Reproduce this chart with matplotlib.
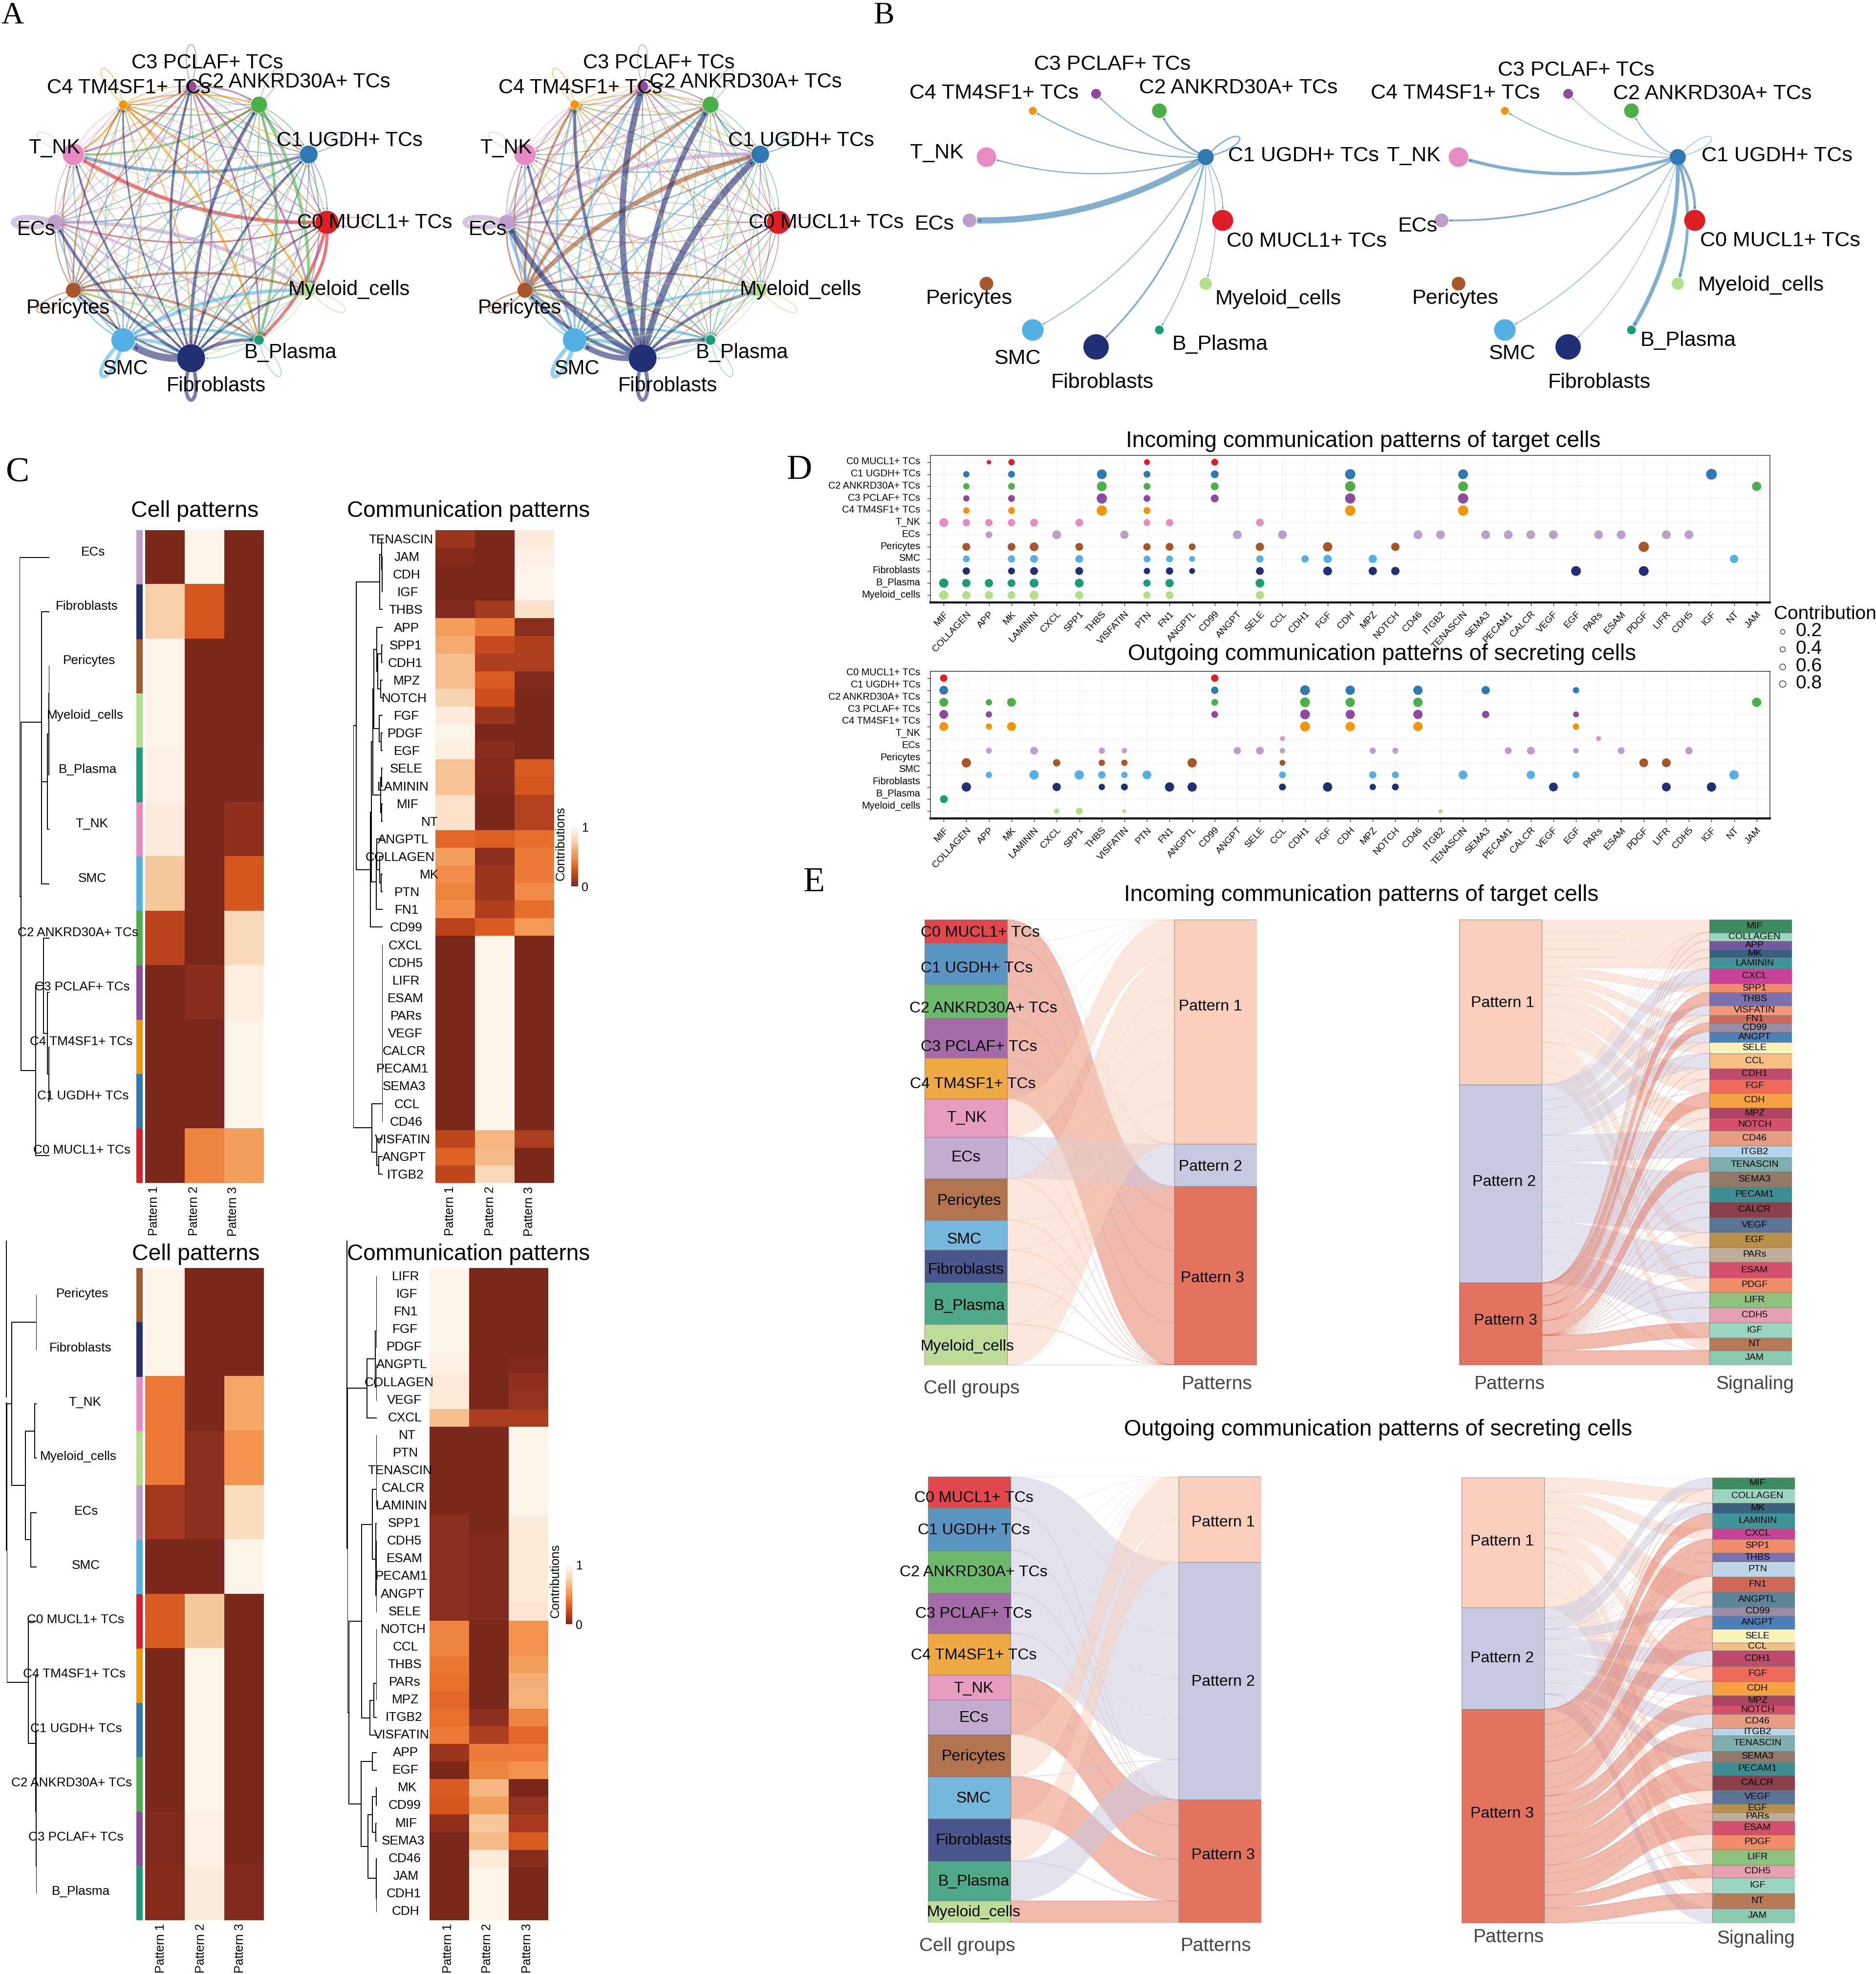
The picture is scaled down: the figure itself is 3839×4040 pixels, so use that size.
import numpy as np
import matplotlib
matplotlib.use("Agg")
import matplotlib.pyplot as plt
from matplotlib.path import Path
from matplotlib.patches import PathPatch, Polygon
from matplotlib.cm import ScalarMappable
from matplotlib.colors import Normalize, LinearSegmentedColormap
from matplotlib.transforms import ScaledTranslation

plt.rcParams['font.family'] = ['Liberation Sans', 'DejaVu Sans']

W_PX, H_PX = 3839, 4040

# ---- cell groups
cells = ['C0 MUCL1+ TCs', 'C1 UGDH+ TCs', 'C2 ANKRD30A+ TCs', 'C3 PCLAF+ TCs', 'C4 TM4SF1+ TCs',
         'T_NK', 'ECs', 'Pericytes', 'SMC', 'Fibroblasts', 'B_Plasma', 'Myeloid_cells']
node_colors = ['#DC1F26', '#2F78B2', '#4DAF4A', '#8E4A9D', '#F29403', '#E78AC3',
               '#BC9DCC', '#A65628', '#54B0E4', '#222F75', '#1B9E77', '#B2DF8A']
strata_colors = ['#E0484D', '#5A94C0', '#6DB96D', '#A36BA8', '#EFA945', '#E89BC1',
                 '#C3ABD0', '#B17350', '#76B7DE', '#4A578C', '#4FAA8A', '#BEDD9B']
node_angles = [0, 30, 60, 90, 120, 150, 180, 210, 240, 270, 300, 330]
node_sizes = [43, 33, 30, 20, 16, 40, 28, 28, 44, 52, 18, 25]

# ---- panel A, weights, source in rows
net_a1 = [
    [.4, .6, .4, .4, .4, 3.5, 1.2, .4, .4, .8, 3, 3],
    [.6, .6, .7, .7, .7, 3, 1, .4, .6, 1.3, .6, .8],
    [.4, .7, .5, .7, .9, 2, .8, .5, .6, .8, 2.5, 3],
    [.4, .6, 1.5, .6, .6, 2, .9, .4, .7, 1.3, 1.8, 1.8],
    [.4, .7, 1.5, .6, .6, 1.8, .8, .4, .6, .9, 2.2, 2],
    [.3, .4, .4, .4, .4, .3, .5, .3, .4, .4, .3, .4],
    [.6, .7, .7, .7, .7, .9, 5, .8, 1.2, 1.8, 2.2, 3.5],
    [.3, .6, 1.3, .8, 1.3, 1, .8, .8, 1.8, 1.3, 2.2, 2.2],
    [.4, 1, .8, 1.2, .7, .8, 1.3, 1.3, 3.5, 3, 2.8, 3.2],
    [1.2, 2.2, 3.2, 2.2, 1.3, 1.8, 2.8, 1.8, 7, 3.5, 3.2, 2.2],
    [.2, .3, .3, .3, .3, .3, .3, .3, .3, .3, .3, .3],
    [.4, .5, .5, .4, .5, .5, .5, 1.8, .7, .7, .5, .7],
]
net_a2 = [
    [.3, .3, .4, .3, .3, .4, .4, .3, .3, .4, .5, .4],
    [.4, .7, 1.2, .6, .6, .7, 1, .3, .5, .5, .4, .5],
    [.3, .5, .5, .6, .7, .7, .7, .3, .4, .4, .5, .6],
    [.3, .4, .8, .4, .5, .6, .7, .3, .4, .5, .4, .5],
    [.3, .5, .9, .4, .5, .6, .6, .3, .4, .5, .4, .5],
    [.2, .3, .3, .3, .3, .3, .4, .3, .3, .3, .2, .3],
    [.7, 4, 1.2, 2.5, 1.8, 1.2, 5, 1, 2, 2.5, 1.5, 2],
    [.4, 4.5, 3, 1.8, 2.2, 1, 1.3, 1, 1.5, 2.2, 1.5, 1.8],
    [.5, 1.8, 1.6, 1.8, 1.6, 1, 2.8, 1, 4, 3.2, 2.2, 2.6],
    [1, 6.5, 5, 6, 3, 2.2, 5.5, 3.2, 5.5, 3.5, 3.2, 2.8],
    [.2, .3, .3, .3, .3, .3, .3, .3, .3, .3, .3, .3],
    [.3, .6, .6, .5, .6, .6, .6, 1.4, .7, .8, .5, .7],
]
# ---- panel B, edges out of C1 UGDH+ TCs
net_b1 = [.7, 1.5, 2, 1, 1.2, 1.2, 8, 0, .7, 2, .6, .5]
net_b2 = [3, .4, .8, .4, .7, 4, 2, 0, .6, .3, 5, 3.5]

# ---- panel C heatmaps
hm1_rows = ['ECs', 'Fibroblasts', 'Pericytes', 'Myeloid_cells', 'B_Plasma', 'T_NK', 'SMC',
            'C2 ANKRD30A+ TCs', 'C3 PCLAF+ TCs', 'C4 TM4SF1+ TCs', 'C1 UGDH+ TCs', 'C0 MUCL1+ TCs']
hm1_vals = [[0, 1, 0], [.75, .28, 0], [1, 0, 0], [1, 0, 0], [.98, .01, .01], [.92, 0, .06],
            [.72, 0, .28], [.18, 0, .8], [0, .04, .95], [0, 0, 1], [0, 0, 1], [0, .45, .55]]
hm1_x = [230, 215, 220, 210, 217, 227, 228, 192, 203, 200, 205, 202]

hm2_rows = ['TENASCIN', 'JAM', 'CDH', 'IGF', 'THBS', 'APP', 'SPP1', 'CDH1', 'MPZ', 'NOTCH', 'FGF', 'PDGF', 'EGF',
            'SELE', 'LAMININ', 'MIF', 'NT', 'ANGPTL', 'COLLAGEN', 'MK', 'PTN', 'FN1', 'CD99', 'CXCL', 'CDH5', 'LIFR',
            'ESAM', 'PARs', 'VEGF', 'CALCR', 'PECAM1', 'SEMA3', 'CCL', 'CD46', 'VISFATIN', 'ANGPT', 'ITGB2']
hm2_vals = [[.1, 0, .92], [.03, 0, .97], [0, 0, 1], [0, 0, 1], [.02, .12, .85], [.55, .42, .05], [.6, .22, .16],
            [.68, .15, .15], [.68, .3, .02], [.78, .25, 0], [.92, .1, .01], [.99, .01, 0], [.95, .04, 0],
            [.7, .03, .3], [.7, .02, .28], [.85, 0, .17], [.85, 0, .17], [.35, .32, .37], [.55, .05, .42],
            [.48, .1, .42], [.45, .1, .47], [.48, .16, .37], [.18, .3, .52], [0, 1, 0], [0, 1, 0], [0, 1, 0],
            [0, 1, 0], [0, 1, 0], [0, 1, 0], [0, 1, 0], [0, 1, 0], [0, 1, 0], [0, 1, 0], [0, 1, 0],
            [.2, .65, .15], [.33, .67, 0], [.2, .8, 0]]
hm2_x = [990, 1005, 1004, 1006, 1001, 1004, 1001, 1000, 1004, 998, 1004, 1000, 1004, 1002, 995, 1006, 1061, 995,
         988, 1060, 1005, 1004, 1002, 1001, 1001, 1003, 1001, 1003, 1001, 998, 993, 998, 1004, 1002, 994, 997, 1001]

hm3_rows = ['Pericytes', 'Fibroblasts', 'T_NK', 'Myeloid_cells', 'ECs', 'SMC', 'C0 MUCL1+ TCs', 'C4 TM4SF1+ TCs',
            'C1 UGDH+ TCs', 'C2 ANKRD30A+ TCs', 'C3 PCLAF+ TCs', 'B_Plasma']
hm3_vals = [[1, 0, 0], [1, 0, 0], [.42, 0, .58], [.42, .05, .5], [.12, .05, .82], [0, 0, 1], [.3, .72, 0], [0, 1, 0],
            [0, 1, 0], [0, 1, 0], [.02, .97, 0], [.03, .93, .02]]
hm3_x = [203, 199, 210, 193, 213, 212, 186, 184, 188, 177, 187, 200]

hm4_rows = ['LIFR', 'IGF', 'FN1', 'FGF', 'PDGF', 'ANGPTL', 'COLLAGEN', 'VEGF', 'CXCL', 'NT', 'PTN', 'TENASCIN', 'CALCR',
            'LAMININ', 'SPP1', 'CDH5', 'ESAM', 'PECAM1', 'ANGPT', 'SELE', 'NOTCH', 'CCL', 'THBS', 'PARs', 'MPZ', 'ITGB2',
            'VISFATIN', 'APP', 'EGF', 'MK', 'CD99', 'MIF', 'SEMA3', 'CD46', 'JAM', 'CDH1', 'CDH']
hm4_vals = [[1, 0, 0], [1, 0, 0], [1, 0, 0], [1, 0, 0], [1, 0, 0], [.97, 0, .02], [.92, 0, .06], [.9, 0, .08],
            [.68, .14, .14], [0, 0, 1], [0, 0, 1], [0, 0, 1], [0, 0, 1], [0, 0, 1], [.05, 0, .93], [.05, .02, .9],
            [.05, .02, .9], [.05, .02, .9], [.05, .02, .9], [.05, .02, .88], [.45, 0, .5], [.45, 0, .5], [.4, 0, .55],
            [.38, 0, .62], [.35, 0, .63], [.38, .05, .45], [.42, .15, .35], [.09, .42, .42], [0, .45, .5], [.3, .65, 0],
            [.28, .55, .08], [.06, .72, .13], [0, .67, .3], [0, .9, .04], [0, 1, 0], [0, 1, 0], [0, 1, 0]]
hm4_x = [1001, 1004, 1002, 1000, 998, 992, 985, 998, 999, 1005, 1001, 987, 995, 991, 998, 998, 998, 991, 994, 999, 995,
         1001, 999, 999, 1001, 997, 991, 1001, 1001, 1005, 999, 1003, 995, 999, 1002, 997, 1001]
pattern_names = ['Pattern 1', 'Pattern 2', 'Pattern 3']
heat_cmap = LinearSegmentedColormap.from_list('heat', ['#7B271C', '#A63A20', '#CF4F1B', '#E96F2B', '#F4934F',
                                                       '#F6B077', '#F8D0A8', '#FCE6D2', '#FEF4E9'])


def ladder(rows):
    node = rows[0]
    for r in rows[1:]:
        node = (.004, node, r)
    return node


# dendrograms, (height, upper, lower) with row numbers as leaves
tree1 = (1.0, 0, (.95, (.27, 1, (.26, (.07, (.01, (.005, 2, 3), 4), 5), 6)),
                  (.46, (.19, 7, (.06, 8, (.02, 9, 10))), 11)))
tree2_top = (.1, (.04, 0, (.02, 1, (.01, 2, 3))), 4)
tree2_a = (.2, 5, (.17, (.03, 6, 7), (.06, 8, 9)))
tree2_b = (.12, 10, (.05, 11, 12))
tree2_c = (.06, (.04, 13, 14), (.04, 15, 16))
tree2_d = (.22, (.2, 17, (.1, 18, (.05, 19, 20))), 21)
tree2_mid = (.42, (.38, (.33, (.3, tree2_a, tree2_b), tree2_c), tree2_d), 22)
tree2 = (1.0, (.9, tree2_top, tree2_mid),
         (.37, ladder(list(range(23, 34))), (.2, 34, (.14, 35, 36))))
tree3 = (1.0, (.84, (.004, 0, 1), (.38, (.07, 2, 3), (.2, 4, 5))),
         (.28, 6, (.03, 7, (.02, (.01, 8, 9), (.005, 10, 11)))))
tree4_top = (.33, (.05, ladder([0, 1, 2, 3, 4]), ladder([5, 6, 7])), 8)
tree4_mid = (.52, (.15, ladder([9, 10, 11, 12, 13]), (.03, 14, ladder([15, 16, 17, 18, 19]))),
             (.24, (.1, ladder([20, 21, 22, 23, 24]), 25), 26))
tree4_low = (.53, (.15, 27, 28), (.3, (.15, (.02, 29, 30), (.03, 31, 32)), (.02, 33, ladder([34, 35, 36]))))
tree4 = (1.0, tree4_top, (.95, tree4_mid, tree4_low))

# ---- panel D dot plots
dot_signals = ['MIF', 'COLLAGEN', 'APP', 'MK', 'LAMININ', 'CXCL', 'SPP1', 'THBS', 'VISFATIN', 'PTN', 'FN1', 'ANGPTL',
               'CD99', 'ANGPT', 'SELE', 'CCL', 'CDH1', 'FGF', 'CDH', 'MPZ', 'NOTCH', 'CD46', 'ITGB2', 'TENASCIN',
               'SEMA3', 'PECAM1', 'CALCR', 'VEGF', 'EGF', 'PARs', 'ESAM', 'PDGF', 'LIFR', 'CDH5', 'IGF', 'NT', 'JAM']
in_idx = [[2, 3, 9, 12],
          [1, 3, 7, 9, 12, 18, 23, 34],
          [1, 3, 7, 9, 12, 18, 23, 36],
          [1, 3, 7, 9, 12, 18, 23],
          [1, 3, 7, 9, 18, 23],
          [0, 1, 2, 3, 4, 6, 9, 10, 14],
          [2, 5, 8, 13, 15, 21, 22, 24, 25, 26, 27, 29, 30, 32, 33],
          [1, 3, 4, 6, 9, 10, 11, 14, 17, 20, 31],
          [1, 3, 4, 6, 9, 10, 11, 14, 16, 17, 19, 35],
          [1, 3, 4, 6, 9, 10, 11, 14, 17, 19, 20, 28, 31],
          [0, 1, 2, 3, 4, 6, 9, 10, 14],
          [0, 1, 2, 3, 4, 6, 9, 10, 14]]
in_val = [[.1, .3, .25, .35],
          [.3, .35, .65, .35, .45, .7, .65, .75],
          [.3, .35, .65, .35, .45, .7, .65, .6],
          [.3, .35, .7, .35, .45, .7, .7],
          [.3, .35, .7, .35, .7, .7],
          [.55, .4, .4, .4, .45, .45, .35, .4, .45],
          [.35, .55, .5, .55, .55, .55, .55, .55, .55, .55, .55, .55, .55, .55, .55],
          [.45, .45, .55, .45, .4, .45, .35, .5, .6, .5, .7],
          [.35, .4, .45, .45, .35, .35, .25, .4, .4, .5, .5, .5],
          [.4, .35, .45, .45, .3, .4, .25, .45, .55, .5, .5, .65, .65],
          [.6, .5, .5, .45, .55, .55, .4, .5, .55],
          [.6, .5, .5, .45, .55, .5, .4, .45, .5]]
out_idx = [[0, 12],
           [0, 12, 16, 18, 21, 24, 28],
           [0, 2, 3, 12, 16, 18, 21, 36],
           [0, 2, 12, 16, 18, 21, 24, 28],
           [0, 2, 3, 16, 18, 21, 28],
           [15, 29],
           [2, 4, 7, 8, 13, 14, 15, 19, 20, 25, 26, 28, 30, 33],
           [1, 5, 7, 8, 11, 15, 31, 32],
           [2, 4, 6, 7, 8, 9, 15, 19, 20, 23, 26, 28, 35],
           [1, 5, 7, 8, 10, 11, 15, 17, 19, 20, 27, 32, 34],
           [0],
           [5, 6, 8, 22]]
out_val = [[.4, .4],
           [.55, .4, .65, .6, .6, .5, .3],
           [.55, .3, .55, .35, .65, .6, .6, .6],
           [.55, .3, .35, .65, .6, .6, .4, .25],
           [.55, .3, .55, .65, .6, .6, .3],
           [.15, .15],
           [.25, .45, .3, .2, .4, .45, .2, .3, .25, .35, .45, .2, .35, .4],
           [.6, .4, .3, .3, .6, .25, .55, .55],
           [.3, .6, .6, .4, .3, .55, .35, .4, .35, .55, .5, .35, .6],
           [.6, .5, .3, .35, .6, .6, .35, .6, .3, .35, .55, .55, .6],
           [.45],
           [.2, .35, .05, .1]]
legend_vals = [.2, .4, .6, .8]

# ---- panel E alluvials
pattern_colors = ['#F9CFBB', '#C8C9E0', '#E2745F']
in_cell_sizes = [68, 120, 100, 115, 120, 111, 121, 122, 86, 96, 121, 120]
in_cell_pattern = [2, 2, 2, 2, 2, 0, 1, 0, 0, 0, 0, 0]
out_cell_sizes = [87, 117, 118, 112, 115, 69, 95, 117, 116, 118, 110, 60]
out_cell_pattern = [1, 1, 1, 1, 1, 2, 2, 0, 2, 0, 1, 2]

sig_colors = {'MIF': '#3C8A60', 'COLLAGEN': '#9CD4C0', 'APP': '#7658A0', 'MK': '#35607E', 'LAMININ': '#41949A',
              'CXCL': '#C84398', 'SPP1': '#F08C69', 'THBS': '#7A70AF', 'VISFATIN': '#F3977D', 'PTN': '#BDD7E7',
              'FN1': '#CF6A5A', 'ANGPTL': '#5F8499', 'CD99': '#9B8CA5', 'ANGPT': '#4D80B6', 'SELE': '#FAF3BA',
              'CCL': '#F6BE82', 'CDH1': '#BF4A6D', 'FGF': '#EE6B5C', 'CDH': '#F4A244', 'MPZ': '#AE4263',
              'NOTCH': '#D5506B', 'CD46': '#E69D84', 'ITGB2': '#B7D5E8', 'TENASCIN': '#7EAFAE', 'SEMA3': '#937A68',
              'PECAM1': '#3F8F92', 'CALCR': '#8B3F4A', 'VEGF': '#5B7396', 'EGF': '#B9924A', 'PARs': '#BEAC98',
              'ESAM': '#D2506A', 'PDGF': '#F08D69', 'LIFR': '#8EC07E', 'CDH5': '#E5A0B1', 'IGF': '#9DD5C4',
              'NT': '#B77A59', 'JAM': '#8ACAB0'}
in_sigs = ['MIF', 'COLLAGEN', 'APP', 'MK', 'LAMININ', 'CXCL', 'SPP1', 'THBS', 'VISFATIN', 'FN1', 'CD99', 'ANGPT', 'SELE',
           'CCL', 'CDH1', 'FGF', 'CDH', 'MPZ', 'NOTCH', 'CD46', 'ITGB2', 'TENASCIN', 'SEMA3', 'PECAM1', 'CALCR', 'VEGF',
           'EGF', 'PARs', 'ESAM', 'PDGF', 'LIFR', 'CDH5', 'IGF', 'NT', 'JAM']
in_sig_sizes = [38, 24, 25, 24, 31, 44, 26, 38, 28, 23, 26, 30, 32, 44, 31, 40, 44, 31, 35, 45, 34, 41, 44, 45, 45, 44,
                43, 44, 45, 43, 45, 44, 44, 37, 43]
in_sig_pattern = [0, 0, 0, 0, 0, 1, 0, 2, 1, 0, 2, 1, 0, 1, 0, 0, 2, 0, 0, 1, 1, 2, 1, 1, 1, 1, 0, 1, 1, 0, 1, 1, 2, 0, 2]
out_sigs = ['MIF', 'COLLAGEN', 'MK', 'LAMININ', 'CXCL', 'SPP1', 'THBS', 'PTN', 'FN1', 'ANGPTL', 'CD99', 'ANGPT', 'SELE',
            'CCL', 'CDH1', 'FGF', 'CDH', 'MPZ', 'NOTCH', 'CD46', 'ITGB2', 'TENASCIN', 'SEMA3', 'PECAM1', 'CALCR', 'VEGF',
            'EGF', 'PARs', 'ESAM', 'PDGF', 'LIFR', 'CDH5', 'IGF', 'NT', 'JAM']
out_sig_sizes = [31, 39, 29, 42, 29, 38, 25, 41, 43, 41, 25, 37, 37, 22, 43, 42, 40, 28, 23, 39, 20, 43, 30, 36, 43, 37,
                 23, 25, 37, 41, 43, 36, 43, 42, 41]
out_sig_pattern = [1, 0, 1, 2, 0, 2, 2, 2, 0, 0, 1, 2, 2, 2, 1, 0, 1, 2, 2, 1, 2, 2, 1, 2, 2, 0, 2, 2, 2, 0, 0, 2, 0, 2, 1]

fig = plt.figure(figsize=(W_PX / 100, H_PX / 100), dpi=100, facecolor='white')


def ax_px(x0, y0, x1, y1, z=1):
    return fig.add_axes([x0 / W_PX, 1 - y1 / H_PX, (x1 - x0) / W_PX, (y1 - y0) / H_PX], zorder=z)


# overlay in reference pixels, for every free text
ov = ax_px(0, 0, W_PX, H_PX, z=50)
ov.set_xlim(0, W_PX)
ov.set_ylim(H_PX, 0)
ov.axis('off')
ov.patch.set_alpha(0)


def lab(x, y, s, size, color='black', rot=0, ha='center', va='center', family=None):
    if rot == 0:
        y = y + 3
    ov.text(x, y, s, fontsize=size, color=color, rotation=rot, ha=ha, va=va,
            family=family if family else plt.rcParams['font.family'])


def network(cx, cy, radius, weights, scale, k, base):
    ax = ax_px(cx - radius, cy - radius, cx + radius, cy + radius)
    ax.set_xlim(-1, 1)
    ax.set_ylim(-1, 1)
    ax.axis('off')
    th = np.radians(node_angles)
    pos = np.column_stack([np.cos(th), np.sin(th)])
    rad = np.array(node_sizes) * scale / 2 / radius
    n = len(cells)
    for i in range(n):
        for j in range(n):
            w = weights[i][j]
            if w <= 0:
                continue
            lw = (base + w * k) * 0.72
            if i == j:
                L = 0.43
                p = pos[i]
                a1 = th[i] - .3
                a2 = th[i] + .3
                verts = [p, p + L * np.array([np.cos(a1), np.sin(a1)]), p + L * np.array([np.cos(a2), np.sin(a2)]), p]
                ax.add_patch(PathPatch(Path(verts, [Path.MOVETO, Path.CURVE4, Path.CURVE4, Path.CURVE4]), fc='none',
                                       ec=node_colors[i], lw=lw, alpha=.6, clip_on=False))
                continue
            a, b = pos[i], pos[j]
            d = b - a
            c = (a + b) / 2 + .14 * np.array([-d[1], d[0]])
            u0 = (c - a) / np.linalg.norm(c - a)
            u1 = (c - b) / np.linalg.norm(c - b)
            p0 = a + u0 * rad[i]
            p2 = b + u1 * (rad[j] + .005)
            ax.add_patch(PathPatch(Path([p0, c, p2], [Path.MOVETO, Path.CURVE3, Path.CURVE3]), fc='none',
                                   ec=node_colors[i], lw=lw, alpha=.6, clip_on=False, capstyle='butt'))
            perp = np.array([-u1[1], u1[0]])
            s = .012 + .0015 * w
            ax.add_patch(Polygon([p2, p2 + u1 * s * 1.4 + perp * s * .6, p2 + u1 * s * 1.4 - perp * s * .6],
                                 fc=node_colors[i], ec='none', alpha=.7, clip_on=False))
    ax.scatter(pos[:, 0], pos[:, 1], s=(np.array(node_sizes) * scale * .72) ** 2, c=node_colors, zorder=5,
               clip_on=False, linewidths=0)


# ---- A
a_labels = [(767, 453), (715, 285), (602, 165), (424, 126), (264, 177), (111, 300),
            (74, 467), (139, 628), (256, 752), (442, 787), (594, 719), (714, 590)]
for off, wts in zip([0, 924], [net_a1, net_a2]):
    network(391 + off, 455, 278, wts, 1.1, 2.0, .5)
    for nm, (x, y) in zip(cells, a_labels):
        lab(x + off, y, nm, 30)

# ---- B
network(2243, 451, 259, [[net_b1[j] if i == 1 else 0 for j in range(12)] for i in range(12)], 1.0, 1.5, .6)
network(3209, 451, 259, [[net_b2[j] if i == 1 else 0 for j in range(12)] for i in range(12)], 1.0, 1.5, .6)
b1_labels = [(2674, 491), (2667, 316), (2534, 177), (2276, 129), (2034, 188), (1917, 310),
             (1912, 456), (1983, 608), (2082, 731), (2256, 780), (2497, 702), (2616, 609)]
b2_labels = [(3643, 490), (3636, 316), (3504, 189), (3225, 141), (2978, 188), (2893, 316),
             (2901, 460), (2978, 608), (3094, 721), (3273, 780), (3455, 694), (3603, 581)]
for labs in (b1_labels, b2_labels):
    for nm, (x, y) in zip(cells, labs):
        lab(x, y, nm, 31)

serif = ['Liberation Serif', 'DejaVu Serif']
lab(25, 30, 'A', 46, family=serif)
lab(1808, 30, 'B', 46, family=serif)
lab(36, 965, 'C', 52, family=serif)
lab(1636, 960, 'D', 52, family=serif)
lab(1666, 1804, 'E', 52, family=serif)


# ---- C
def draw_tree(ax, node):
    if not isinstance(node, tuple):
        return 0.0, node + .5
    h, a, b = node
    ha, ya = draw_tree(ax, a)
    hb, yb = draw_tree(ax, b)
    ax.plot([ha, h, h, hb], [ya, ya, yb, yb], color='black', lw=1.4, solid_joinstyle='miter')
    return h, (ya + yb) / 2


def heatmap(box, rows, vals, xs, tree, tree_x, tick_shift, label_shift, strip=None):
    x0, y0, x1, y1 = box
    ax = ax_px(x0, y0, x1, y1)
    ax.imshow(np.array(vals), cmap=heat_cmap, vmin=0, vmax=1, aspect='auto', interpolation='nearest')
    ax.axis('off')
    rowh = (y1 - y0) / len(rows)
    for i, nm in enumerate(rows):
        lab(xs[i] * .829, y0 + (i + .5) * rowh + label_shift, nm, 18.8)
    cw = (x1 - x0) / 3
    for k, p in enumerate(pattern_names):
        lab(x0 + (k + .5) * cw + tick_shift, y1 + 7, p, 18, rot=90, va='top')
    tr = ax_px(tree_x[0], y0, tree_x[1], y1)
    tr.set_xlim(1, 0)
    tr.set_ylim(len(rows), 0)
    tr.axis('off')
    draw_tree(tr, tree)
    if strip:
        st = ax_px(279, y0, 292, y1)
        st.barh(np.arange(len(rows)) + .5, 1, height=1, color=[node_colors[cells.index(r)] for r in rows])
        st.set_xlim(0, 1)
        st.set_ylim(len(rows), 0)
        st.axis('off')


heatmap((297, 1085, 540, 2421), hm1_rows, hm1_vals, hm1_x, tree1, (40, 101), -22, -14, strip=True)
heatmap((891, 1085, 1134, 2421), hm2_rows, hm2_vals, hm2_x, tree2, (723, 783), -10, -1)
heatmap((297, 2595, 540, 3930), hm3_rows, hm3_vals, hm3_x, tree3, (14, 75), -8, -6, strip=True)
heatmap((879, 2595, 1122, 3930), hm4_rows, hm4_vals, hm4_x, tree4, (711, 771), -3, -3)
lab(399, 1043, 'Cell patterns', 33.5)
lab(959, 1043, 'Communication patterns', 33)
lab(401, 2564, 'Cell patterns', 33.5)
lab(959, 2564, 'Communication patterns', 33)
ov.vlines([13, 13, 710], [2539, 2870, 2539], [2860, 3174, 3170], color='black', lw=1.4)

for (bx0, by0, bx1, by1), tx, ty in [((1169, 1693, 1183, 1814), 1148, 1726), ((1158, 3203, 1171, 3324), 1137, 3235)]:
    cax = ax_px(bx0, by0, bx1, by1)
    cb = fig.colorbar(ScalarMappable(Normalize(0, 1), heat_cmap), cax=cax, ticks=[0, 1])
    cb.outline.set_visible(False)
    cb.ax.tick_params(length=0, labelsize=18, pad=5)
    lab(tx, ty, 'Contributions', 18.5, rot=90)


# ---- D
def dotplot(box, idx, val, shift):
    ax = ax_px(*box)
    for r, (xs, vs) in enumerate(zip(idx, val)):
        d = (7 + 20 * np.array(vs)) * .72
        ax.scatter(xs, [r] * len(xs), s=d ** 2, color=node_colors[r], linewidths=0, zorder=3)
    ax.set_xlim(-.59, 36.59)
    ax.set_ylim(11.6, -.56)
    ax.set_xticks(range(len(dot_signals)))
    ax.set_xticklabels(dot_signals, rotation=47, ha='right', rotation_mode='anchor', fontsize=14)
    ax.set_yticks(range(len(cells)))
    ax.set_yticklabels(cells, fontsize=14.3)
    ax.grid(color='#EEEEEE', lw=.7)
    ax.set_axisbelow(True)
    ax.tick_params(length=5, width=1, color='#333333', pad=6)
    ax.tick_params(axis='y', pad=10)
    for sp in ax.spines.values():
        sp.set_linewidth(1.1)
        sp.set_color('#333333')
    ax.spines['bottom'].set_linewidth(3)
    ax.spines['bottom'].set_color('black')
    if shift:
        for t in ax.get_yticklabels():
            t.set_transform(t.get_transform() + ScaledTranslation(0, shift / 100, fig.dpi_scale_trans))


dotplot((1904, 932, 3622, 1233), in_idx, in_val, 3)
dotplot((1904, 1374, 3622, 1675), out_idx, out_val, 13)
lab(2790, 900, 'Incoming communication patterns of target cells', 33)
lab(2828, 1336, 'Outgoing communication patterns of secreting cells', 33)
lab(3735, 1254, 'Contribution', 28)
ov.scatter([3648] * 4, [1293, 1329, 1365, 1400], s=((8 + 6.5 * np.array(legend_vals)) * .72) ** 2, fc='none',
           ec='#333333', lw=1)
for v, y in zip(legend_vals, [1289, 1325, 1361, 1396]):
    lab(3702, y, str(v), 28)


# ---- E
def flow_matrix(sizes, assign, n, small=.3):
    m = np.full((len(sizes), n), small)
    for i, (s, p) in enumerate(zip(sizes, assign)):
        m[i, p] = s
    return m


def sankey(box, left_colors, right_colors, flows, pat_on_left):
    ax = ax_px(*box)
    nl, nr = flows.shape
    total = flows.sum()
    sw = 169 / (box[2] - box[0])
    x0, x1 = sw, 1 - sw
    xm = (x0 + x1) / 2
    # lode positions on both axes
    ly = np.zeros(flows.shape)
    cur = 0
    lsum = []
    for i in range(nl):
        lsum.append(cur)
        for j in range(nr):
            ly[i, j] = cur
            cur += flows[i, j]
    ry = np.zeros(flows.shape)
    cur = 0
    rsum = []
    for j in range(nr):
        rsum.append(cur)
        for i in range(nl):
            ry[i, j] = cur
            cur += flows[i, j]
    codes = [Path.MOVETO, Path.CURVE4, Path.CURVE4, Path.CURVE4, Path.LINETO,
             Path.CURVE4, Path.CURVE4, Path.CURVE4, Path.CLOSEPOLY]
    for i in range(nl):
        for j in range(nr):
            f = flows[i, j]
            a, b = ly[i, j], ry[i, j]
            col = pattern_colors[i] if pat_on_left else pattern_colors[j]
            verts = [(x0, a), (xm, a), (xm, b), (x1, b), (x1, b + f), (xm, b + f), (xm, a + f), (x0, a + f), (x0, a)]
            ax.add_patch(PathPatch(Path(verts, codes), fc=col, ec=col, lw=.35, alpha=.5))
    ax.bar(0, flows.sum(axis=1), width=sw, bottom=lsum, align='edge', color=left_colors, edgecolor='#777777', lw=.6)
    ax.bar(x1, flows.sum(axis=0), width=sw, bottom=rsum, align='edge', color=right_colors, edgecolor='#777777', lw=.6)
    ax.set_xlim(0, 1)
    ax.set_ylim(total, 0)
    ax.axis('off')
    return (np.array(rsum) + flows.sum(axis=0) / 2) / total


def zoom5(x, y):
    return 1800 + 1.3 * x, 1780 + .7015 * y


def zoom6(x, y):
    return 1800 + 1.3 * x, 2880 + .7398 * y


sankey((1892, 1882, 2572, 2794), strata_colors, pattern_colors,
       flow_matrix(in_cell_sizes, in_cell_pattern, 3), False)
sankey((1899, 3022, 2581, 3935), strata_colors, pattern_colors,
       flow_matrix(out_cell_sizes, out_cell_pattern, 3), False)

for box, names, sizes, assign in [((2986, 1882, 3667, 2794), in_sigs, in_sig_sizes, in_sig_pattern),
                                  ((2991, 3024, 3673, 3936), out_sigs, out_sig_sizes, out_sig_pattern)]:
    mids = sankey(box, pattern_colors, [sig_colors[n] for n in names], flow_matrix(sizes, assign, 3).T, True)
    for n, m in zip(names, mids):
        lab(box[2] - 169 / 2 + 8, box[1] + m * (box[3] - box[1]) - 3, n, 14)

e1_labels = [(158, 179), (153, 283), (163, 401), (156, 513), (147, 622), (137, 720),
             (136, 835), (141, 962), (133, 1075), (136, 1163), (141, 1268), (138, 1387)]
for nm, p in zip(cells, e1_labels):
    x, y = zoom5(*p)
    lab(x, y, nm, 23)
e2_labels = [(148, 248), (148, 336), (148, 453), (148, 568), (148, 682), (148, 774),
             (148, 856), (148, 962), (148, 1078), (148, 1195), (148, 1309), (148, 1394)]
for nm, p in zip(cells, e2_labels):
    x, y = zoom6(*p)
    lab(x, y, nm, 23)
for nm, p in zip(pattern_names * 2, [(521, 395), (521, 863), (524, 1187), (981, 385), (983, 907), (985, 1312)]):
    x, y = zoom5(*p)
    lab(x, y, nm, 23)
for nm, p in zip(pattern_names * 2, [(541, 315), (541, 755), (541, 1236), (980, 368), (980, 691), (980, 1121)]):
    x, y = zoom6(*p)
    lab(x, y, nm, 23)
for s, p in [('Cell groups', (145, 1510)), ('Patterns', (531, 1497)), ('Patterns', (992, 1497)), ('Signaling', (1378, 1497))]:
    x, y = zoom5(*p)
    lab(x, y, s, 28, color='#444444')
for s, p in [('Cell groups', (138, 1487)), ('Patterns', (529, 1487)), ('Patterns', (990, 1462)), ('Signaling', (1379, 1466))]:
    x, y = zoom6(*p)
    lab(x, y, s, 28, color='#444444')
lab(*zoom5(758, 70), 'Incoming communication patterns of target cells', 33)
lab(*zoom6(785, 58), 'Outgoing communication patterns of secreting cells', 33)

fig.savefig('out.png', dpi=100)
